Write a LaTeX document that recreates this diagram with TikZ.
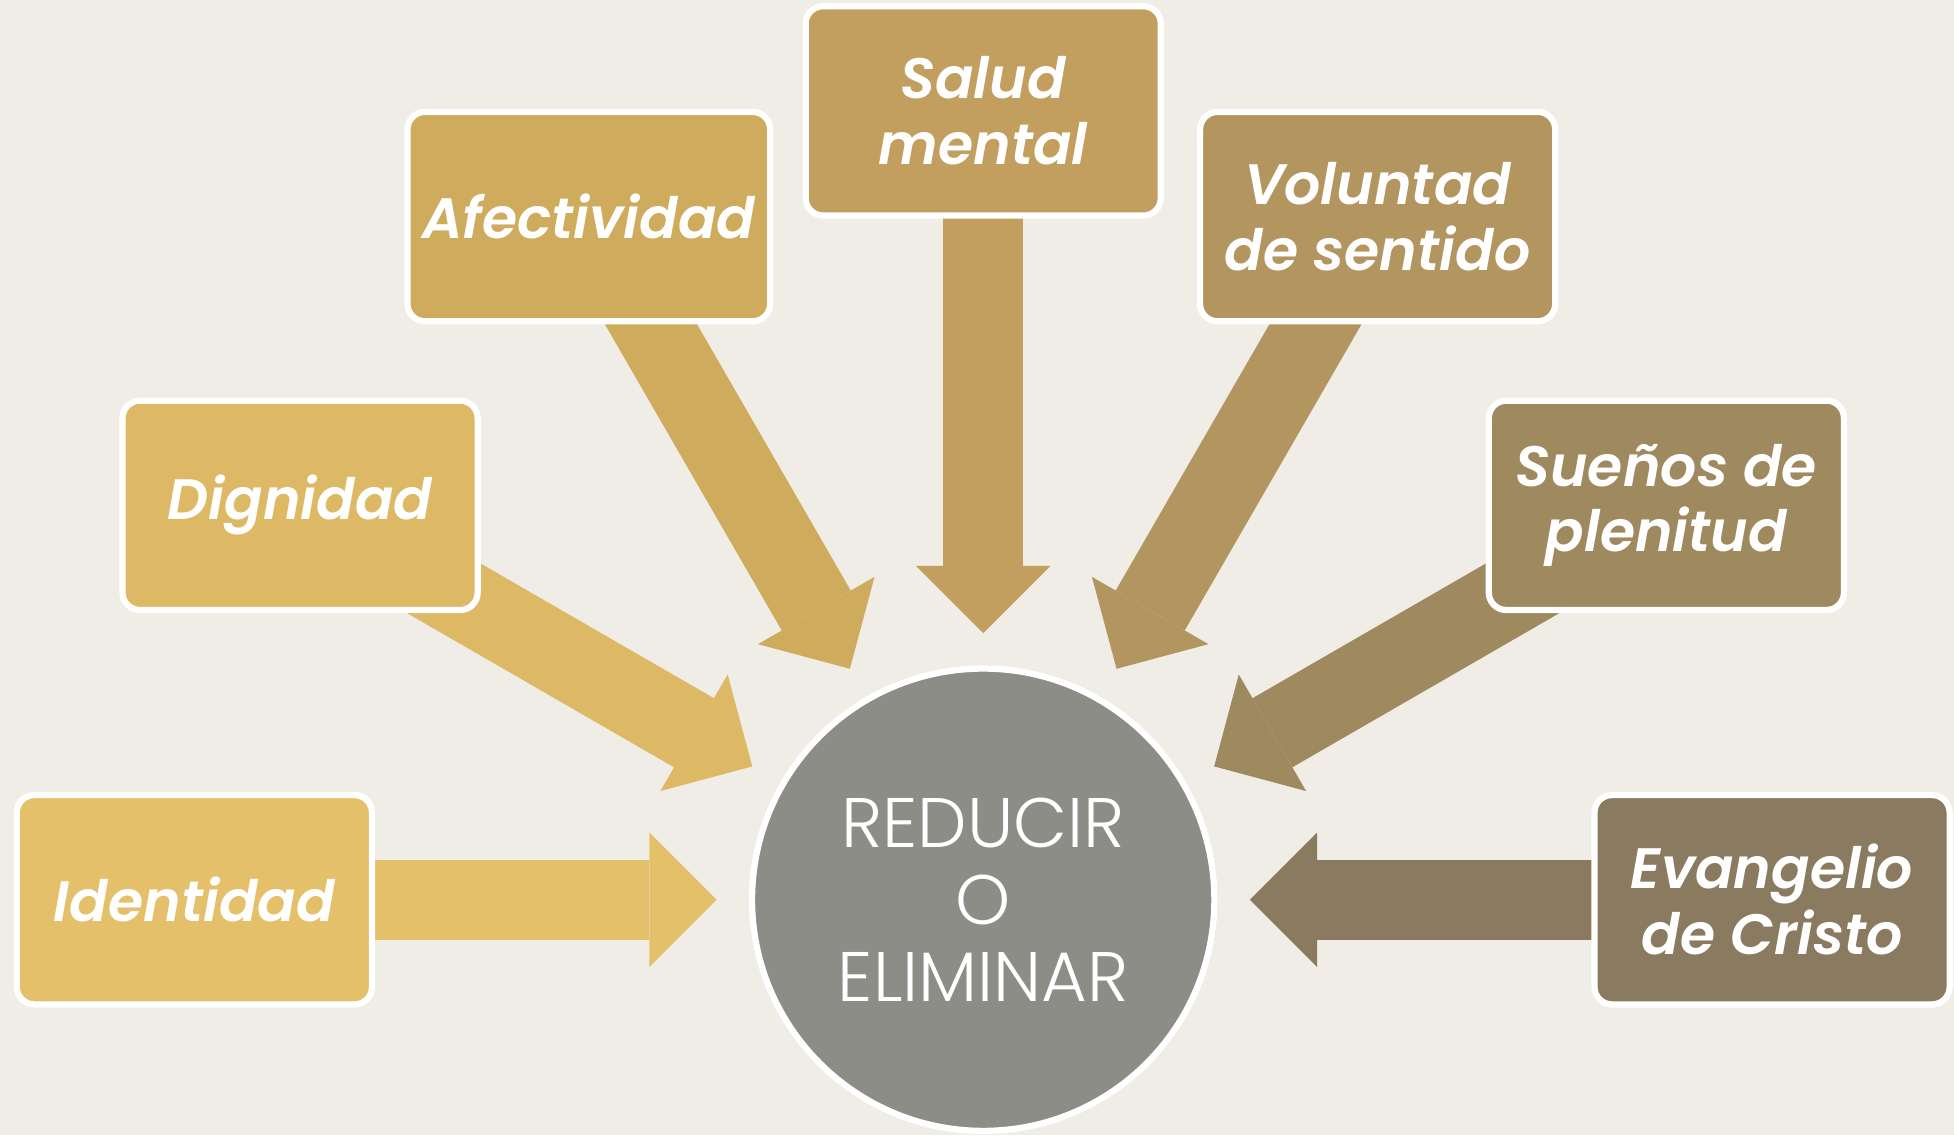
\documentclass[tikz,border=0pt]{standalone}
\usepackage{fontspec}
\setmainfont{Poppins}
\newfontfamily\itemfont{Poppins SemiBold Italic}
\newfontfamily\hubfont{Poppins Light}
\usepackage{tikz}
\usetikzlibrary{arrows.meta}

\definecolor{bgc}{HTML}{EFEDE5}
\definecolor{cident}{HTML}{E4C06B}
\definecolor{cdign}{HTML}{DDB865}
\definecolor{cafect}{HTML}{CFAB5E}
\definecolor{csalud}{HTML}{C29F5E}
\definecolor{cvolun}{HTML}{B39560}
\definecolor{csuen}{HTML}{9F895E}
\definecolor{cevang}{HTML}{8A7A60}
\definecolor{ccirc}{HTML}{8C8D86}

\pgfdeclarelayer{bg}
\pgfdeclarelayer{arrows}
\pgfsetlayers{bg,arrows,main}

\tikzstyle{item} = [rectangle, draw=white, line width=0.5mm, rounded corners=1.4mm, minimum width=28.5mm, minimum height=16.8mm, align=center, text=white, font=\fontsize{13}{15}\selectfont\itemfont]
\tikzstyle{hub} = [circle, draw=white, fill=ccirc, line width=0.5mm, minimum size=37.1mm, outer sep=2.85mm, align=center, text=white, font=\fontsize{16}{17.6}\selectfont\hubfont]
\tikzstyle{arrow} = [line width=6.4mm, -{Triangle[length=5.4mm, width=10.8mm, line width'=0pt]}]

\begin{document}
\begin{tikzpicture}[x=0.1mm, y=0.1mm]

            \begin{pgfonlayer}{bg}
            \fill [bgc] (-789,-189) rectangle (779,722);
            \end{pgfonlayer}
            \useasboundingbox (-789,-189) rectangle (779,722);

            \node (circ) [hub] at (0,0) {REDUCIR\\O\\ELIMINAR};
            \node (ident) [item, fill=cident] at (180:633) {Identidad};
            \node (dign) [item, fill=cdign] at (150:633) {Dignidad};
            \node (afect) [item, fill=cafect] at (120:633) {Afectividad};
            \node (salud) [item, fill=csalud] at (90:633) {Salud\\mental};
            \node (volun) [item, fill=cvolun] at (60:633) {Voluntad\\de sentido};
            \node (suenos) [item, fill=csuen] at (30:633) {Sueños de\\plenitud};
            \node (evang) [item, fill=cevang] at (0:633) {Evangelio\\de Cristo};

            \begin{pgfonlayer}{arrows}
            \draw [arrow, cident] (ident.center) -- (circ);
            \draw [arrow, cdign] (dign.center) -- (circ);
            \draw [arrow, cafect] (afect.center) -- (circ);
            \draw [arrow, csalud] (salud.center) -- (circ);
            \draw [arrow, cvolun] (volun.center) -- (circ);
            \draw [arrow, csuen] (suenos.center) -- (circ);
            \draw [arrow, cevang] (evang.center) -- (circ);
            \end{pgfonlayer}

        \end{tikzpicture}
\end{document}
